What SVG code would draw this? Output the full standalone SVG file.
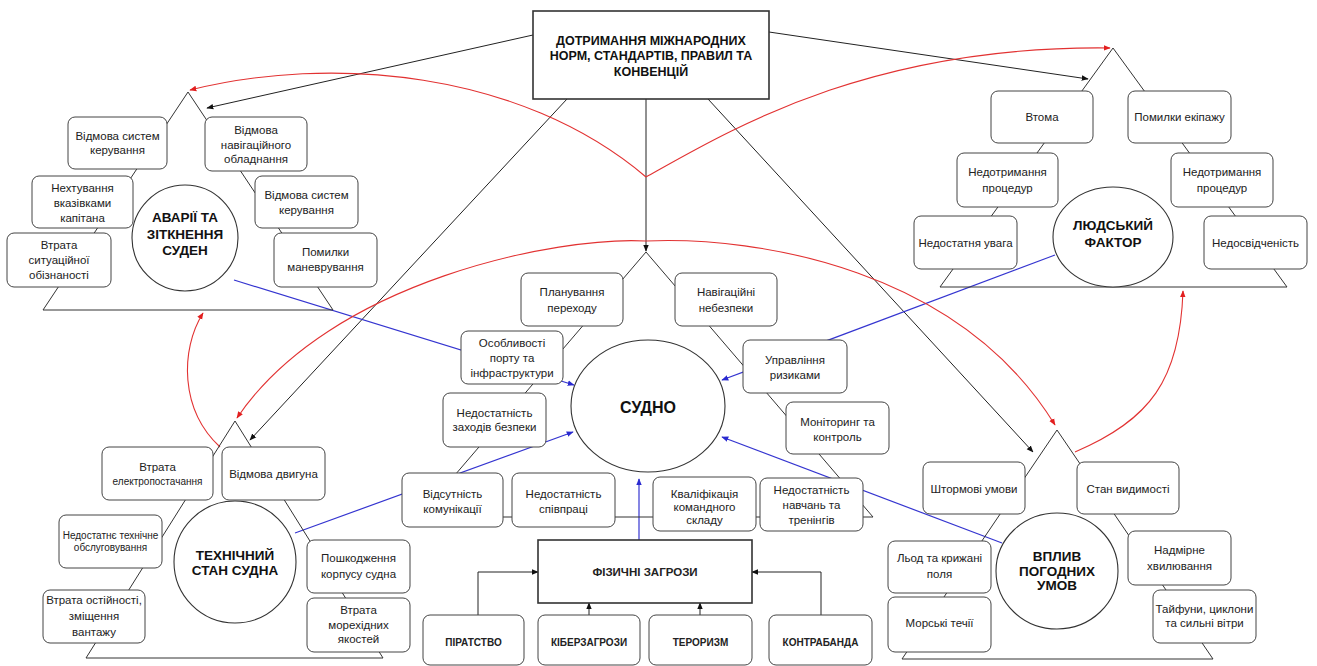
<svg xmlns="http://www.w3.org/2000/svg" width="1317" height="666" viewBox="0 0 1317 666">
  <style>
    .tri { fill: none; stroke: #333; stroke-width: 1; }
    .box { fill: #fff; stroke: #444; stroke-width: 1; }
    .hub { fill: #fff; stroke: #333; stroke-width: 1.1; }
    .frame { fill: #fff; stroke: #333; stroke-width: 1.6; }
    .t { font-family: "Liberation Sans", Arial, sans-serif; font-size: 11.5px; fill: #222; text-anchor: middle; }
    .ts { font-size: 10px; }
    .hb { font-family: "Liberation Sans", Arial, sans-serif; font-size: 13.5px; font-weight: bold; fill: #111; text-anchor: middle; }
    .cap { font-family: "Liberation Sans", Arial, sans-serif; font-size: 10px; font-weight: bold; fill: #222; text-anchor: middle; }
    .k { fill: none; stroke: #222; stroke-width: 1; }
    .b { fill: none; stroke: #3535d0; stroke-width: 1.2; }
    .r { fill: none; stroke: #e23232; stroke-width: 1.1; }
  </style>
  <defs>
    <marker id="ak" viewBox="0 0 10 10" refX="9" refY="5" markerWidth="7" markerHeight="7" markerUnits="userSpaceOnUse" orient="auto">
      <path d="M0,1 L10,5 L0,9 z" fill="#111"/>
    </marker>
    <marker id="ab" viewBox="0 0 10 10" refX="9" refY="5" markerWidth="7" markerHeight="7" markerUnits="userSpaceOnUse" orient="auto">
      <path d="M0,1 L10,5 L0,9 z" fill="#2a2ad0"/>
    </marker>
    <marker id="ar" viewBox="0 0 10 10" refX="9" refY="5" markerWidth="7" markerHeight="7" markerUnits="userSpaceOnUse" orient="auto">
      <path d="M0,1 L10,5 L0,9 z" fill="#e21f1f"/>
    </marker>
  </defs>
  <rect width="1317" height="666" fill="#fff"/>

  <!-- connectors -->
  <g id="connectors">
    <!-- from the standards box -->
    <path class="k" d="M533,35 L207,108" marker-end="url(#ak)"/>
    <path class="k" d="M769,32 L1088,79" marker-end="url(#ak)"/>
    <path class="k" d="M567,99 L250,440" marker-end="url(#ak)"/>
    <path class="k" d="M646,99 L646,251" marker-end="url(#ak)"/>
    <path class="k" d="M708,99 L1033,452" marker-end="url(#ak)"/>
    <!-- into the vessel -->
    <path class="b" d="M234,280 L574,385" marker-end="url(#ab)"/>
    <path class="b" d="M1055,255 L722,380" marker-end="url(#ab)"/>
    <path class="b" d="M295,533 L573,432" marker-end="url(#ab)"/>
    <path class="b" d="M1002,543 L722,437" marker-end="url(#ab)"/>
    <path class="b" d="M639,540 L639,479" marker-end="url(#ab)"/>
    <!-- threats -->
    <path class="k" d="M478,615 V572 H538" marker-end="url(#ak)"/>
    <path class="k" d="M589,615 V603" marker-end="url(#ak)"/>
    <path class="k" d="M700,615 V603" marker-end="url(#ak)"/>
    <path class="k" d="M821,615 V572 H752" marker-end="url(#ak)"/>
    <!-- mutual influences -->
    <path class="r" d="M646,177 C520,70 330,55 190,90" marker-end="url(#ar)"/>
    <path class="r" d="M646,177 C730,130 870,45 1110,48" marker-end="url(#ar)"/>
    <path class="r" d="M646,241 C560,236 330,280 237,418" marker-end="url(#ar)"/>
    <path class="r" d="M646,241 C760,236 960,270 1055,425" marker-end="url(#ar)"/>
    <path class="r" d="M220,447 C180,410 180,350 203,313" marker-end="url(#ar)"/>
    <path class="r" d="M1075,452 C1150,420 1180,380 1183,291" marker-end="url(#ar)"/>
  </g>

  <!-- standards -->
  <g id="standards">
    <rect class="frame" x="533" y="11" width="236" height="88"/>
    <text class="hb" style="font-size:12.5px" x="651" y="45">ДОТРИМАННЯ МІЖНАРОДНИХ</text>
    <text class="hb" style="font-size:12.5px" x="651" y="60">НОРМ, СТАНДАРТІВ, ПРАВИЛ ТА</text>
    <text class="hb" style="font-size:12.5px" x="651" y="76">КОНВЕНЦІЙ</text>
  </g>

  <!-- accidents and collisions -->
  <g id="accidents">
    <polygon class="tri" points="188,92 43,310 333,310"/>
    <circle class="hub" cx="185" cy="238" r="53"/>
    <text class="hb" x="185" y="221.5">АВАРІЇ ТА</text>
    <text class="hb" x="185" y="238.5">ЗІТКНЕННЯ</text>
    <text class="hb" x="185" y="254.5">СУДЕН</text>
    <rect class="box" x="68" y="117" width="99" height="52" rx="7"/>
    <text class="t" x="117.5" y="140">Відмова систем</text>
    <text class="t" x="117.5" y="154">керування</text>
    <rect class="box" x="205" y="117" width="102" height="54" rx="7"/>
    <text class="t" x="256" y="134">Відмова</text>
    <text class="t" x="256" y="148.5">навігаційного</text>
    <text class="t" x="256" y="163">обладнання</text>
    <rect class="box" x="32" y="176" width="101" height="52" rx="7"/>
    <text class="t" x="82.5" y="192">Нехтування</text>
    <text class="t" x="82.5" y="207">вказівками</text>
    <text class="t" x="82.5" y="222">капітана</text>
    <rect class="box" x="255" y="176" width="103" height="52" rx="7"/>
    <text class="t" x="306.5" y="199">Відмова систем</text>
    <text class="t" x="306.5" y="214">керування</text>
    <rect class="box" x="7" y="233" width="104" height="54" rx="7"/>
    <text class="t" x="59" y="249">Втрата</text>
    <text class="t" x="59" y="264">ситуаційної</text>
    <text class="t" x="59" y="279">обізнаності</text>
    <rect class="box" x="274" y="233" width="103" height="54" rx="7"/>
    <text class="t" x="325.5" y="256">Помилки</text>
    <text class="t" x="325.5" y="271">маневрування</text>
  </g>

  <!-- human factor -->
  <g id="human">
    <polygon class="tri" points="1113,48 940,287 1287,287"/>
    <ellipse class="hub" cx="1113" cy="237" rx="60" ry="50"/>
    <text class="hb" x="1113" y="229.5">ЛЮДСЬКИЙ</text>
    <text class="hb" x="1113" y="246.5">ФАКТОР</text>
    <rect class="box" x="991" y="91" width="102" height="52" rx="7"/>
    <text class="t" x="1042" y="121">Втома</text>
    <rect class="box" x="1128" y="91" width="103" height="52" rx="7"/>
    <text class="t" x="1179.5" y="121">Помилки екіпажу</text>
    <rect class="box" x="957" y="153" width="101" height="54" rx="7"/>
    <text class="t" x="1007.5" y="176">Недотримання</text>
    <text class="t" x="1007.5" y="192">процедур</text>
    <rect class="box" x="1171" y="153" width="102" height="54" rx="7"/>
    <text class="t" x="1222" y="176">Недотримання</text>
    <text class="t" x="1222" y="192">процедур</text>
    <rect class="box" x="914" y="216" width="103" height="53" rx="7"/>
    <text class="t" x="965.5" y="246.5">Недостатня увага</text>
    <rect class="box" x="1204" y="216" width="103" height="53" rx="7"/>
    <text class="t" x="1255.5" y="246.5">Недосвідченість</text>
  </g>

  <!-- technical condition -->
  <g id="technical">
    <polygon class="tri" points="235,421 86,658 383,658"/>
    <circle class="hub" cx="235" cy="562" r="61"/>
    <text class="hb" x="235" y="559.5">ТЕХНІЧНИЙ</text>
    <text class="hb" x="235" y="574.5">СТАН СУДНА</text>
    <rect class="box" x="102" y="447" width="111" height="53" rx="7"/>
    <text class="t" x="157.5" y="470.5">Втрата</text>
    <text class="t ts" x="157.5" y="485">електропостачання</text>
    <rect class="box" x="222" y="447" width="103" height="53" rx="7"/>
    <text class="t" x="273.5" y="477.5">Відмова двигуна</text>
    <rect class="box" x="59" y="515" width="103" height="53" rx="7"/>
    <text class="t ts" x="110.5" y="538.5">Недостатнє технічне</text>
    <text class="t ts" x="110.5" y="551">обслуговування</text>
    <rect class="box" x="43" y="590" width="102" height="53" rx="7"/>
    <text class="t" x="94" y="604">Втрата остійності,</text>
    <text class="t" x="94" y="620">зміщення</text>
    <text class="t" x="94" y="636">вантажу</text>
    <rect class="box" x="307" y="540" width="103" height="53" rx="7"/>
    <text class="t" x="358.5" y="562">Пошкодження</text>
    <text class="t" x="358.5" y="578">корпусу судна</text>
    <rect class="box" x="307" y="598" width="103" height="54" rx="7"/>
    <text class="t" x="358.5" y="614">Втрата</text>
    <text class="t" x="358.5" y="628.5">морехідних</text>
    <text class="t" x="358.5" y="643">якостей</text>
  </g>

  <!-- weather -->
  <g id="weather">
    <polygon class="tri" points="1057,430 902,659 1213,659"/>
    <ellipse class="hub" cx="1057" cy="571" rx="61" ry="58"/>
    <text class="hb" x="1057" y="561">ВПЛИВ</text>
    <text class="hb" x="1057" y="576">ПОГОДНИХ</text>
    <text class="hb" x="1057" y="590">УМОВ</text>
    <rect class="box" x="923" y="462" width="102" height="52" rx="7"/>
    <text class="t" x="974" y="493">Штормові умови</text>
    <rect class="box" x="1077" y="462" width="102" height="52" rx="7"/>
    <text class="t" x="1128" y="493">Стан видимості</text>
    <rect class="box" x="888" y="541" width="103" height="52" rx="7"/>
    <text class="t" x="939.5" y="562">Льод та крижані</text>
    <text class="t" x="939.5" y="578">поля</text>
    <rect class="box" x="888" y="597" width="103" height="55" rx="7"/>
    <text class="t" x="939.5" y="627">Морські течії</text>
    <rect class="box" x="1128" y="531" width="103" height="54" rx="7"/>
    <text class="t" x="1179.5" y="554">Надмірне</text>
    <text class="t" x="1179.5" y="570">хвилювання</text>
    <rect class="box" x="1153" y="590" width="103" height="53" rx="7"/>
    <text class="t" x="1204.5" y="613">Тайфуни, циклони</text>
    <text class="t" x="1204.5" y="627">та сильні вітри</text>
  </g>

  <!-- vessel -->
  <g id="vessel">
    <polygon class="tri" points="646,252 419,517 873,517"/>
    <ellipse class="hub" cx="648" cy="406" rx="77" ry="66"/>
    <text class="hb" style="font-size:16px" x="648" y="412.5">СУДНО</text>
    <rect class="box" x="521" y="273" width="102" height="53" rx="7"/>
    <text class="t" x="572" y="295.5">Планування</text>
    <text class="t" x="572" y="311.5">переходу</text>
    <rect class="box" x="675" y="273" width="102" height="53" rx="7"/>
    <text class="t" x="726" y="295.5">Навігаційні</text>
    <text class="t" x="726" y="311.5">небезпеки</text>
    <rect class="box" x="461" y="331" width="102" height="53" rx="7"/>
    <text class="t" x="512" y="347">Особливості</text>
    <text class="t" x="512" y="361.5">порту та</text>
    <text class="t" x="512" y="376.5">інфраструктури</text>
    <rect class="box" x="743" y="340" width="104" height="53" rx="7"/>
    <text class="t" x="795" y="364">Управління</text>
    <text class="t" x="795" y="379">ризиками</text>
    <rect class="box" x="443" y="393" width="103" height="54" rx="7"/>
    <text class="t" x="494.5" y="417">Недостатність</text>
    <text class="t" x="494.5" y="431">заходів безпеки</text>
    <rect class="box" x="786" y="402" width="103" height="52" rx="7"/>
    <text class="t" x="837.5" y="425.5">Моніторинг та</text>
    <text class="t" x="837.5" y="440.5">контроль</text>
    <rect class="box" x="402" y="473" width="101" height="54" rx="7"/>
    <text class="t" x="452.5" y="497.5">Відсутність</text>
    <text class="t" x="452.5" y="512.5">комунікації</text>
    <rect class="box" x="512" y="473" width="103" height="54" rx="7"/>
    <text class="t" x="563.5" y="497.5">Недостатність</text>
    <text class="t" x="563.5" y="512.5">співпраці</text>
    <rect class="box" x="653" y="477" width="103" height="54" rx="7"/>
    <text class="t" x="704.5" y="497.5">Кваліфікація</text>
    <text class="t" x="704.5" y="510.5">командного</text>
    <text class="t" x="704.5" y="523.5">складу</text>
    <rect class="box" x="760" y="478" width="103" height="53" rx="7"/>
    <text class="t" x="811.5" y="494">Недостатність</text>
    <text class="t" x="811.5" y="509">навчань та</text>
    <text class="t" x="811.5" y="524">тренінгів</text>
  </g>

  <!-- physical threats -->
  <g id="threats">
    <rect class="frame" x="538" y="540" width="214" height="63"/>
    <text class="cap" style="font-size:11.5px" x="645" y="576">ФІЗИЧНІ ЗАГРОЗИ</text>
  </g>
  <g id="piracy">
    <rect class="box" x="423" y="615" width="101" height="50" rx="7"/>
    <text class="cap" x="473.5" y="645.5">ПІРАТСТВО</text>
  </g>
  <g id="cyber">
    <rect class="box" x="538" y="615" width="102" height="50" rx="7"/>
    <text class="cap" x="589" y="645.5">КІБЕРЗАГРОЗИ</text>
  </g>
  <g id="terrorism">
    <rect class="box" x="649" y="615" width="103" height="50" rx="7"/>
    <text class="cap" x="700.5" y="645.5">ТЕРОРИЗМ</text>
  </g>
  <g id="smuggling">
    <rect class="box" x="769" y="615" width="103" height="50" rx="7"/>
    <text class="cap" x="820.5" y="645.5">КОНТРАБАНДА</text>
  </g>
</svg>
